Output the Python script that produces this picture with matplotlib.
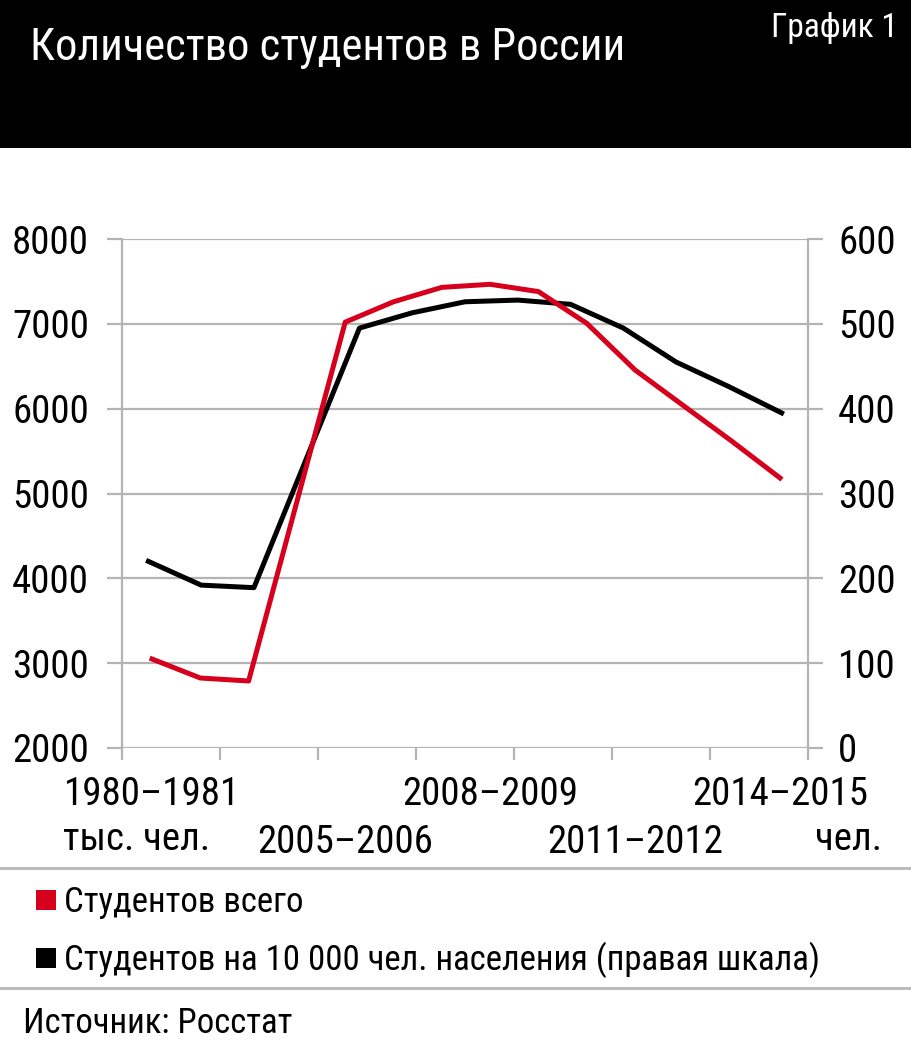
import matplotlib
matplotlib.use("Agg")
import matplotlib.pyplot as plt
from matplotlib import font_manager
from matplotlib.patches import Rectangle
from matplotlib.lines import Line2D
import numpy as np

# ---------------- data ----------------
years_total = ["1980–1981", "1990–1991", "1995–1996", "2000–2001", "2005–2006",
               "2006–2007", "2007–2008", "2008–2009", "2009–2010", "2010–2011",
               "2011–2012", "2012–2013", "2013–2014", "2014–2015"]
students_total = [3049, 2825, 2790, None, 7020, 7260, 7430, 7466, 7380, 7006,
                  6456, 6036, 5618, 5183]          # тыс. чел.

years_per10k = ["1980–1981", "1990–1991", "1995–1996", "2000–2001", "2005–2006",
                "2006–2007", "2007–2008", "2008–2009", "2009–2010", "2010–2011",
                "2011–2012", "2012–2013", "2013–2014"]
students_per10k = [220, 192, 189, None, 495, 513, 526, 528, 523, 495, 455, 426, 395]

shown_top = ["1980–1981", "2008–2009", "2014–2015"]
shown_bottom = ["2005–2006", "2011–2012"]

left_ticks = [2000, 3000, 4000, 5000, 6000, 7000, 8000]
right_ticks = [0, 100, 200, 300, 400, 500, 600]

title = "Количество студентов в России"
chart_no = "График 1"
legend_labels = ["Студентов всего", "Студентов на 10 000 чел. населения (правая шкала)"]
source = "Источник: Росстат"
unit_left = "тыс. чел."
unit_right = "чел."

RED = "#d6001c"
BLACK = "#000000"
GRID = "#b4b4b4"

# ---------------- font ----------------
fl = font_manager.fontManager.ttflist
names = {f.name for f in fl}
FONT, STRETCH = None, "normal"
for cand in ["Roboto Condensed", "Liberation Sans Narrow", "Open Sans Condensed",
             "DejaVu Sans Condensed"]:
    if cand in names:
        FONT = cand
        break
if FONT is None:
    if any(f.name == "DejaVu Sans" and f.stretch in ("condensed", "semi-condensed") for f in fl):
        FONT, STRETCH = "DejaVu Sans", "condensed"
    else:
        FONT = "Liberation Sans"
plt.rcParams["font.family"] = [FONT, "DejaVu Sans"]
plt.rcParams["font.stretch"] = STRETCH

W, H = 912, 1045
fig = plt.figure(figsize=(W / 100, H / 100), dpi=100)
fig.patch.set_facecolor("white")

def fx(px):
    return px / W

def fy(py):
    return 1 - py / H

TICK_FS = 28
TEXT_FS = 25

# header
fig.add_artist(Rectangle((0, fy(148)), 1, 148 / H, transform=fig.transFigure,
                         facecolor="black", edgecolor="none", zorder=0))
fig.text(fx(30), fy(60), title, color="white", fontsize=32, va="baseline", ha="left")
fig.text(fx(898), fy(37), chart_no, color="white", fontsize=24, va="baseline", ha="right")

rect = [fx(122), fy(748), fx(808) - fx(122), (748 - 239) / H]

# frame axes: grid, spines, ticks, left labels
axf = fig.add_axes(rect)
axf.set_xlim(0, 7)
axf.set_ylim(2000, 8000)
axf.set_xticks(range(8))
axf.set_xticklabels([])
axf.set_yticks(left_ticks)
axf.set_yticklabels([str(v) for v in left_ticks], fontsize=TICK_FS)
axf.tick_params(axis="y", direction="out", length=10.8, width=1.6, color=GRID, pad=13)
axf.tick_params(axis="x", direction="out", length=8.6, width=1.6, color=GRID)
axf.grid(axis="y", color=GRID, linewidth=1.6)
axf.set_axisbelow(True)
for s in ["top", "bottom"]:
    axf.spines[s].set_visible(False)
for s in ["left", "right"]:
    axf.spines[s].set_color(GRID)
    axf.spines[s].set_linewidth(1.6)
axf.patch.set_visible(False)

# black series (right scale, own category axis)
axb = fig.add_axes(rect)
axb.patch.set_visible(False)
for s in axb.spines.values():
    s.set_visible(False)
xb = [i for i, v in enumerate(students_per10k) if v is not None]
yb = [v for v in students_per10k if v is not None]
axb.plot(xb, yb, color=BLACK, linewidth=3.6, solid_joinstyle="round")
axb.set_xlim(-0.5, len(years_per10k) - 0.5)
axb.set_ylim(0, 600)
axb.set_xticks([])
axb.yaxis.tick_right()
axb.set_yticks(right_ticks)
axb.set_yticklabels([str(v) for v in right_ticks], fontsize=TICK_FS)
axb.tick_params(axis="y", direction="out", length=10.8, width=1.6, color=GRID, pad=11)

# red series (left scale)
axr = fig.add_axes(rect)
axr.patch.set_visible(False)
for s in axr.spines.values():
    s.set_visible(False)
xr = [i for i, v in enumerate(students_total) if v is not None]
yr = [v for v in students_total if v is not None]
axr.plot(xr, yr, color=RED, linewidth=3.6, solid_joinstyle="round")
axr.set_xlim(-0.621, 13.58)
axr.set_ylim(2000, 8000)
axr.set_yticks([])
axr.set_xticks([years_total.index(y) for y in shown_top])
axr.set_xticklabels(shown_top, fontsize=TICK_FS)
axr.set_xticks([years_total.index(y) for y in shown_bottom], minor=True)
axr.set_xticklabels(shown_bottom, fontsize=TICK_FS, minor=True)
axr.tick_params(axis="x", which="major", length=0, pad=20)
axr.tick_params(axis="x", which="minor", length=0, pad=55)

axr.text(fx(137), fy(850), unit_left, transform=fig.transFigure, fontsize=TICK_FS,
         ha="center", va="baseline")
axr.text(fx(849), fy(850), unit_right, transform=fig.transFigure, fontsize=TICK_FS,
         ha="center", va="baseline")

# separators
for yy in [868, 988]:
    fig.add_artist(Line2D([0, 1], [fy(yy), fy(yy)], transform=fig.transFigure,
                          color="#bcbcbc", linewidth=2.2))

# legend
for (lab, col, base) in [(legend_labels[0], RED, 912), (legend_labels[1], BLACK, 970)]:
    fig.add_artist(Rectangle((fx(36), fy(base - 2)), 20 / W, 20 / H,
                             transform=fig.transFigure, facecolor=col, edgecolor="none"))
    fig.text(fx(64), fy(base), lab, fontsize=TEXT_FS, ha="left", va="baseline")

fig.text(fx(23), fy(1033), source, fontsize=TEXT_FS, ha="left", va="baseline")

fig.savefig("out.png", dpi=100)
